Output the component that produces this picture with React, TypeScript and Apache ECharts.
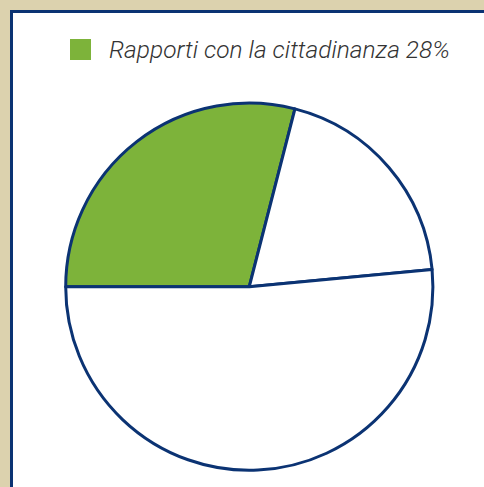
import React, { useEffect, useRef } from "react";
import * as echarts from "echarts";

const categories = ["Rapporti con la cittadinanza", "Altro A", "Altro B"];
const values = [29, 19.5, 51.5];
const legendLabel = "Rapporti con la cittadinanza 28%";
const sliceColors = ["#7DB33A", "#FFFFFF", "#FFFFFF"];

export default function App() {
  const ref = useRef<HTMLDivElement>(null);
  useEffect(() => {
    document.body.style.margin = "0";
    const chart = echarts.init(ref.current!, null, { renderer: "svg" });
    chart.setOption({
      animation: false,
      backgroundColor: "#DCD2AE",
      graphic: [
        {
          type: "rect",
          z: -10,
          silent: true,
          shape: { x: 11.5, y: 11.5, width: 600, height: 600 },
          style: { fill: "#FFFFFF", stroke: "#0B3373", lineWidth: 3 },
        },
      ],
      legend: {
        show: true,
        data: [categories[0]],
        left: 70,
        top: 37,
        padding: 0,
        icon: "rect",
        itemWidth: 21,
        itemHeight: 21,
        itemStyle: { borderWidth: 0 },
        formatter: () => legendLabel,
        textStyle: {
          fontFamily: "Roboto",
          fontStyle: "italic",
          fontWeight: 300,
          fontSize: 24.5,
          color: "#333333",
          padding: [0, 0, 0, 13],
        },
      },
      series: [
        {
          type: "pie",
          center: [249.3, 286.7],
          radius: 183.6,
          startAngle: 180,
          clockwise: true,
          label: { show: false },
          labelLine: { show: false },
          emphasis: { disabled: true },
          itemStyle: { borderColor: "#0B3373", borderWidth: 3 },
          data: categories.map((name, i) => ({
            name,
            value: values[i],
            itemStyle: { color: sliceColors[i] },
          })),
        },
      ],
    });
    return () => chart.dispose();
  }, []);
  return <div ref={ref} style={{ width: 484, height: 487 }} />;
}
